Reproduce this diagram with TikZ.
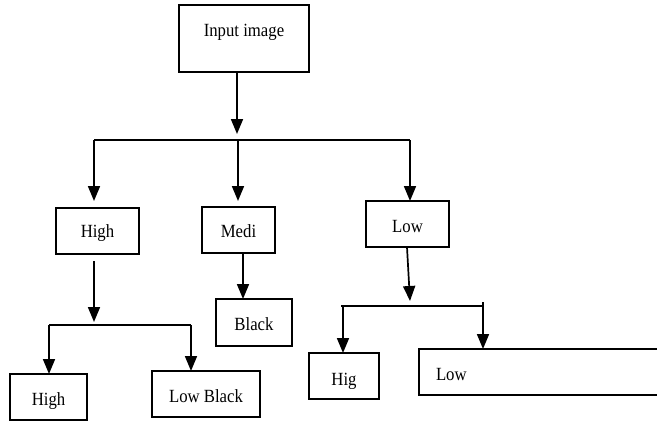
\documentclass[tikz,border=0pt]{standalone}
\usepackage{fontspec}
\setmainfont{Liberation Serif}[FakeStretch=0.9]
\usetikzlibrary{arrows.meta}
\begin{document}
\begin{tikzpicture}[x=1pt,y=-1pt,
  box/.style={draw,line width=1.6pt,rectangle,inner sep=0pt,outer sep=0pt,anchor=north west,
    font=\fontsize{18.6}{22}\selectfont},
  arr/.style={line width=1.7pt,-{Triangle[length=15pt,width=12pt]}},
  ln/.style={line width=1.7pt}]
\useasboundingbox (0,0) rectangle (657,421);
\clip (0,0) rectangle (657,421);
% nodes
\node[box,minimum width=130pt,minimum height=67pt,text height=31pt,text depth=36pt] (in) at (179,5) {Input image};
\node[box,minimum width=83pt,minimum height=46pt,text height=29pt,text depth=17pt] (h1) at (56,208) {High};
\node[box,minimum width=73pt,minimum height=46pt,text height=30pt,text depth=16pt] (me) at (202,207) {Medi};
\node[box,minimum width=83pt,minimum height=46pt,text height=31pt,text depth=15pt] (l1) at (366,201) {Low};
\node[box,minimum width=76pt,minimum height=47pt,text height=31pt,text depth=16pt] (bl) at (216,299) {Black};
\node[box,minimum width=77pt,minimum height=46pt,text height=31pt,text depth=15pt] (h2) at (10,374) {High};
\node[box,minimum width=108pt,minimum height=46pt,text height=31pt,text depth=15pt] (lb) at (152,371) {Low Black};
\node[box,minimum width=70pt,minimum height=46pt,text height=32pt,text depth=14pt] (hg) at (309,353) {Hig};
\node[box,text width=245pt,align=left,minimum height=46pt,text height=31pt,text depth=15pt] (l2) at (419,349) {\hspace*{17pt}Low};
% coordinates
\coordinate (a0) at (237,134);
\coordinate (b1) at (94,140);
\coordinate (b2) at (238,140);
\coordinate (b3) at (410,140);
\coordinate (t1) at (94,201);
\coordinate (t2) at (238,201);
\coordinate (c0) at (94,261);
\coordinate (c0e) at (94,322);
\coordinate (c1) at (49,325);
\coordinate (c2) at (191,325);
\coordinate (d1) at (341,306);
\coordinate (d1a) at (343,306);
\coordinate (d2) at (483,306);
\coordinate (d2a) at (483,302);
\coordinate (dt) at (410,301);
% connectors
\draw[arr] (in.south -| a0) -- (a0);
\draw[ln] (b1) -- (b3);
\draw[arr] (b1) -- (t1);
\draw[arr] (b2) -- (t2);
\draw[arr] (b3) -- (l1.north -| b3);
\draw[arr] (c0) -- (c0e);
\draw[ln] (c1) -- (c2);
\draw[arr] (c1) -- (h2.north -| c1);
\draw[arr] (c2) -- (lb.north -| c2);
\draw[arr] ([xshift=4.5pt]me.south) -- ([xshift=4.5pt]me.south |- bl.north);
\draw[arr] ([xshift=-0.5pt]l1.south) -- (dt);
\draw[ln] (d1) -- (d2);
\draw[arr] (d1a) -- (hg.north -| d1a);
\draw[arr] (d2a) -- (l2.north -| d2a);
\end{tikzpicture}
\end{document}
